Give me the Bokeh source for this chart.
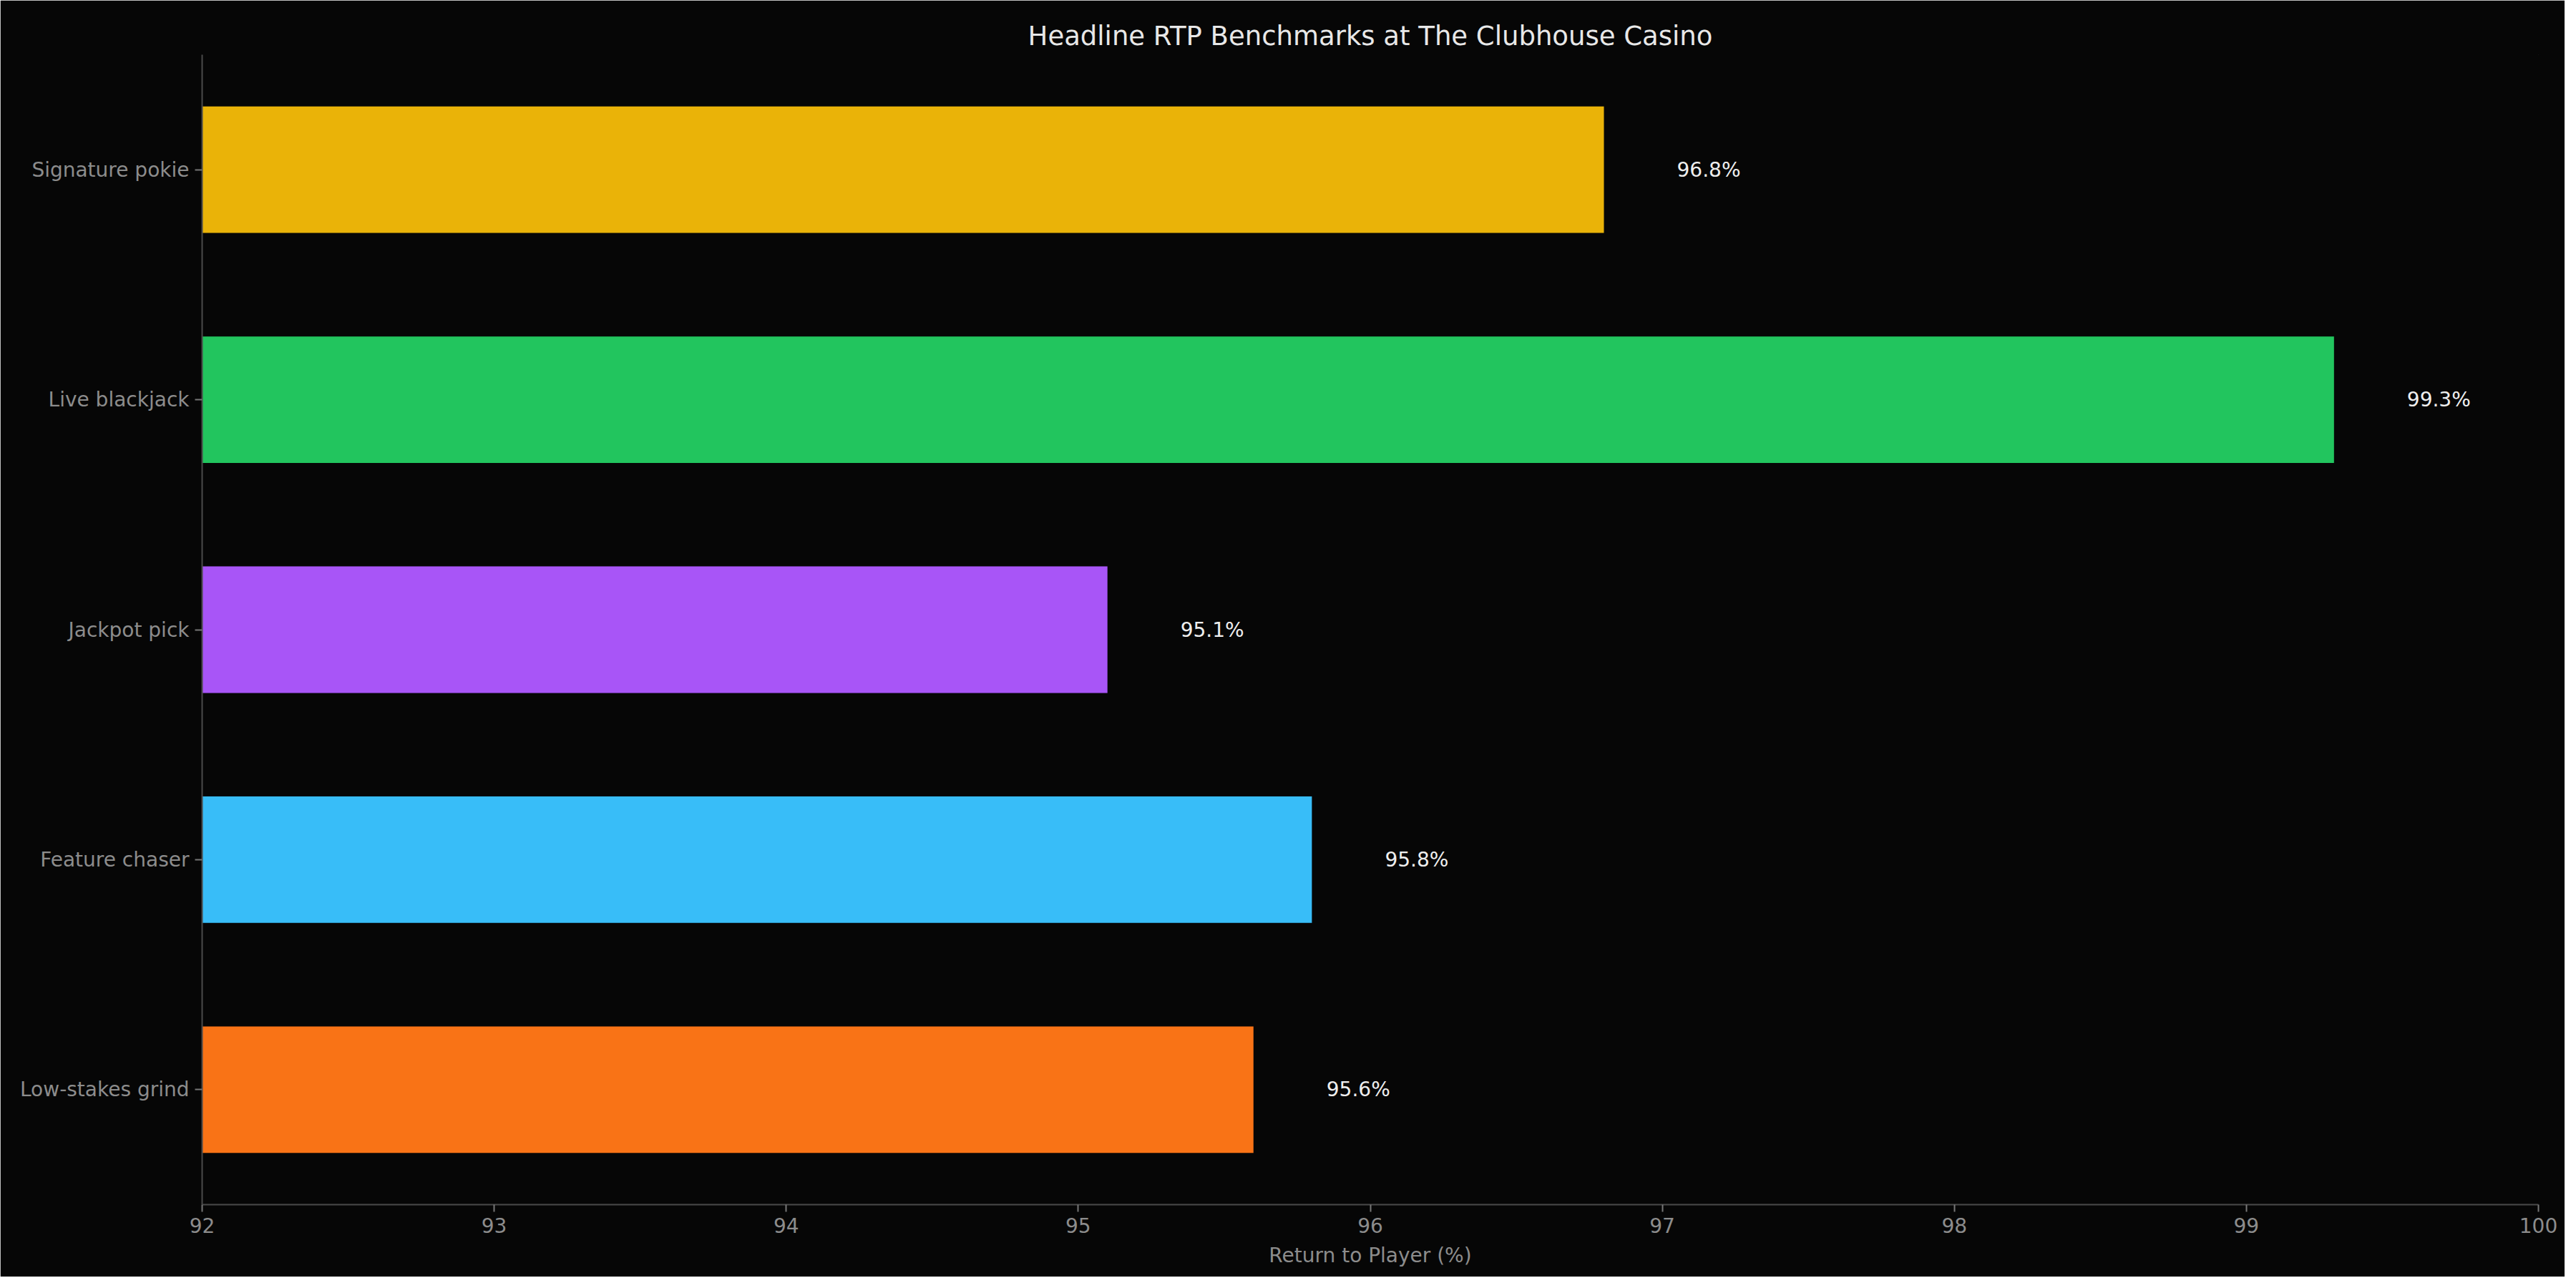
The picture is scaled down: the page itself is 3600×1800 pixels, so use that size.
from bokeh.plotting import figure
from bokeh.models import ColumnDataSource, FixedTicker, Range1d
from bokeh.embed import file_html
from bokeh.resources import INLINE
from bokeh.core.properties import value

categories = ["Low-stakes grind", "Feature chaser", "Jackpot pick", "Live blackjack", "Signature pokie"]
rtp = [95.6, 95.8, 95.1, 99.3, 96.8]
colors = ["#F97316", "#38BDF8", "#A855F7", "#22C55E", "#EAB308"]
x_ticks = [92, 93, 94, 95, 96, 97, 98, 99, 100]
title = "Headline RTP Benchmarks at The Clubhouse Casino"
x_label = "Return to Player (%)"

BG = "#060606"
FONT = "DejaVu Sans"

pos = list(range(len(categories)))
src = ColumnDataSource(dict(
    y=pos, right=rtp, left=[92] * len(rtp), color=colors,
    lx=[v + 0.25 for v in rtp], label=[f"{v:.1f}%" for v in rtp],
))

p = figure(width=3584, height=1784, output_backend="svg", toolbar_location=None,
           x_range=Range1d(92, 100), y_range=Range1d(-0.5, 4.5))
p.min_border_left = 282
p.min_border_right = 37
p.min_border_top = 76
p.min_border_bottom = 101
p.background_fill_color = BG
p.border_fill_color = BG
p.outline_line_color = BG
p.grid.visible = False

p.hbar(y="y", left="left", right="right", height=0.55, color="color", line_color=None, source=src)
p.text(x="lx", y="y", text="label", source=src, text_color="#eeeeee",
       text_font=value(FONT), text_font_size="28px", text_baseline="middle", text_align="left")

p.title.text = title
p.title.align = "center"
p.title.text_color = "#e8e8e8"
p.title.text_font = FONT
p.title.text_font_size = "37px"
p.title.text_font_style = "normal"

xa = p.xaxis[0]
xa.ticker = FixedTicker(ticks=x_ticks)
xa.axis_label = x_label
ya = p.yaxis[0]
ya.ticker = FixedTicker(ticks=pos)
ya.major_label_overrides = {i: c for i, c in enumerate(categories)}

for ax in (xa, ya):
    ax.axis_line_color = "#4a4a4a"
    ax.axis_line_width = 2
    ax.major_tick_line_color = "#777777"
    ax.major_tick_line_width = 2
    ax.major_tick_out = 10
    ax.major_tick_in = 0
    ax.minor_tick_line_color = None
    ax.major_label_text_color = "#8c8c8c"
    ax.major_label_text_font = FONT
    ax.major_label_text_font_size = "28px"
    ax.major_label_standoff = 8
    ax.axis_label_text_color = "#8c8c8c"
    ax.axis_label_text_font = FONT
    ax.axis_label_text_font_size = "28px"
    ax.axis_label_text_font_style = "normal"
    ax.axis_label_standoff = 12

open("out.html", "w").write(file_html(p, INLINE))
